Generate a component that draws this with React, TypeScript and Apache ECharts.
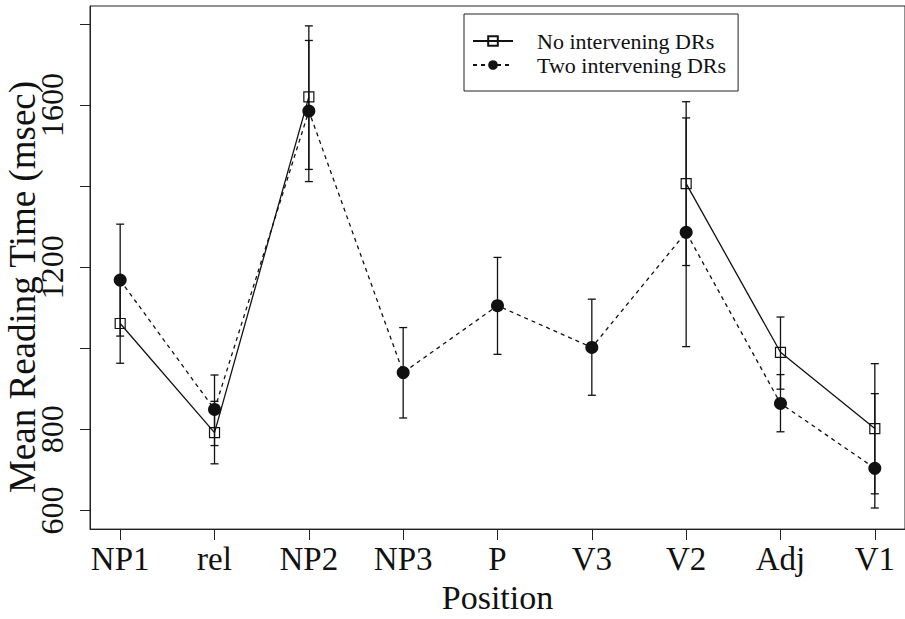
import React, { useEffect, useRef } from "react";
import * as echarts from "echarts";

const categories = ["NP1", "rel", "NP2", "NP3", "P", "V3", "V2", "Adj", "V1"];
const noIntMean = [1061, 792, 1620, null, null, null, 1406, 990, 802];
const noIntLow = [963, 715, 1441, null, null, null, 1204, 899, 641];
const noIntHigh = [1159, 869, 1795, null, null, null, 1608, 1077, 962];
const twoIntMean = [1168, 849, 1585, 940, 1105, 1002, 1286, 864, 704];
const twoIntLow = [1030, 760, 1411, 828, 985, 884, 1004, 794, 606];
const twoIntHigh = [1306, 934, 1759, 1051, 1224, 1121, 1568, 935, 888];
const yTicks = [600, 800, 1000, 1200, 1400, 1600, 1800];
const yLabels = [600, 800, 1200, 1600];
const seriesNames = ["No intervening DRs", "Two intervening DRs"];

const FONT = "'Liberation Serif', 'Times New Roman', serif";

function linePoints(means: (number | null)[]) {
  return means.map((v, i) => [i + 1, v == null ? "-" : v]);
}
function barPoints(lo: (number | null)[], hi: (number | null)[]) {
  const out: number[][] = [];
  lo.forEach((l, i) => {
    const h = hi[i];
    if (l != null && h != null) out.push([i + 1, l, h]);
  });
  return out;
}

function errorRender(params: any, api: any) {
  const x = api.value(0);
  const p1 = api.coord([x, api.value(1)]);
  const p2 = api.coord([x, api.value(2)]);
  const hw = 4;
  const style = { stroke: "#111", lineWidth: 1.3 };
  return {
    type: "group",
    children: [
      { type: "line", shape: { x1: p1[0], y1: p1[1], x2: p2[0], y2: p2[1] }, style },
      { type: "line", shape: { x1: p1[0] - hw, y1: p1[1], x2: p1[0] + hw, y2: p1[1] }, style },
      { type: "line", shape: { x1: p2[0] - hw, y1: p2[1], x2: p2[0] + hw, y2: p2[1] }, style },
    ],
  };
}

export default function App() {
  const ref = useRef<HTMLDivElement>(null);
  useEffect(() => {
    const chart = echarts.init(ref.current!, null, { renderer: "svg" });
    const option: any = {
      animation: false,
      backgroundColor: "#fff",
      textStyle: { fontFamily: FONT, color: "#111" },
      grid: {
        left: 90,
        top: 6,
        right: -6,
        bottom: 82,
        show: true,
        borderColor: "#222",
        borderWidth: 1,
        backgroundColor: "transparent",
      },
      xAxis: {
        type: "value",
        min: 0.68,
        max: 9.32,
        name: "Position",
        nameLocation: "middle",
        nameGap: 50,
        nameTextStyle: { fontFamily: FONT, fontSize: 34, color: "#111" },
        axisLine: { show: true, lineStyle: { color: "#222", width: 1 } },
        axisTick: {
          show: true,
          inside: false,
          length: 11,
          customValues: categories.map((_, i) => i + 1),
          lineStyle: { color: "#222" },
        },
        axisLabel: {
          customValues: categories.map((_, i) => i + 1),
          formatter: (v: number) => categories[Math.round(v) - 1] ?? "",
          fontFamily: FONT,
          fontSize: 33,
          color: "#111",
          margin: 13,
        },
        splitLine: { show: false },
      },
      yAxis: {
        type: "value",
        min: 554,
        max: 1844,
        axisLine: { show: true, lineStyle: { color: "#222", width: 1 } },
        axisTick: {
          show: true,
          inside: false,
          length: 10,
          customValues: yTicks,
          lineStyle: { color: "#222" },
        },
        axisLabel: {
          customValues: yLabels,
          formatter: (v: number) => String(v),
          rotate: 90,
          fontFamily: FONT,
          fontSize: 32,
          color: "#111",
          margin: 22,
        },
        splitLine: { show: false },
      },
      legend: {
        data: seriesNames,
        orient: "vertical",
        left: 464,
        top: 14,
        padding: [16, 12, 15, 8],
        itemGap: 2,
        itemWidth: 40,
        itemHeight: 12,
        borderColor: "#222",
        borderWidth: 1,
        borderRadius: 0,
        backgroundColor: "#fff",
        textStyle: { fontFamily: FONT, fontSize: 22, color: "#111", padding: [0, 0, 0, 19] },
      },
      graphic: [
        {
          type: "text",
          x: 22,
          y: 287,
          rotation: Math.PI / 2,
          style: {
            text: "Mean Reading Time (msec)",
            fontFamily: FONT,
            fontSize: 37,
            fill: "#111",
            textAlign: "center",
            textVerticalAlign: "middle",
          },
        },
      ],
      series: [
        {
          name: "noIntErr",
          type: "custom",
          renderItem: errorRender,
          data: barPoints(noIntLow, noIntHigh),
          encode: { x: 0, y: [1, 2] },
          z: 1,
          silent: true,
        },
        {
          name: "twoIntErr",
          type: "custom",
          renderItem: errorRender,
          data: barPoints(twoIntLow, twoIntHigh),
          encode: { x: 0, y: [1, 2] },
          z: 1,
          silent: true,
        },
        {
          name: seriesNames[0],
          type: "line",
          data: linePoints(noIntMean),
          connectNulls: false,
          symbol: "rect",
          symbolSize: 10,
          showAllSymbol: true,
          lineStyle: { color: "#111", width: 1.3, type: "solid" },
          itemStyle: { color: "rgba(255,255,255,0)", borderColor: "#111", borderWidth: 1.2 },
          z: 3,
        },
        {
          name: seriesNames[1],
          type: "line",
          data: linePoints(twoIntMean),
          symbol: "circle",
          symbolSize: 13,
          showAllSymbol: true,
          lineStyle: { color: "#111", width: 1.3, type: [4, 4] },
          itemStyle: { color: "#111", borderColor: "#111", borderWidth: 0 },
          z: 4,
        },
      ],
    };
    chart.setOption(option);
    return () => chart.dispose();
  }, []);
  return (
    <div
      ref={ref}
      style={{ position: "absolute", left: 0, top: 0, width: 905, height: 619, background: "#fff" }}
    />
  );
}
